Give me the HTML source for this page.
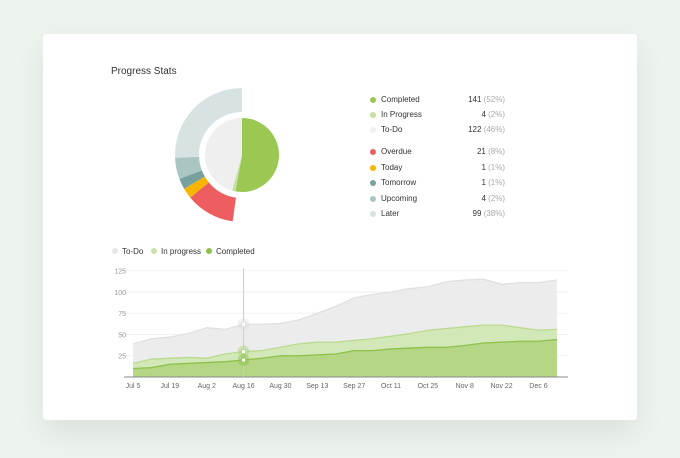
<!DOCTYPE html>
<html><head><meta charset="utf-8"><style>
body{margin:0;width:680px;height:458px;background:#edf3ed;font-family:"Liberation Sans",sans-serif;overflow:hidden;position:relative}
.card{position:absolute;left:43px;top:34px;width:594px;height:386px;background:#fff;border-radius:3px;box-shadow:0 12px 30px rgba(0,0,0,0.08)}
.title{position:absolute;left:111px;top:66px;font-size:10px;color:#333}
.leg{position:absolute;left:370px;width:135px;font-size:8px;color:#333;height:12px}
.leg .d{position:absolute;left:0;top:2px;width:6px;height:6px;border-radius:50%}
.leg .n{position:absolute;left:11px;top:0}
.leg .v{position:absolute;right:0;top:0}
.leg .v span{color:#aaa}
</style></head><body>
<div class="card"></div>
<div class="title">Progress Stats</div>
<svg id="donut" width="680" height="458" style="position:absolute;left:0;top:0"></svg>
<div id="legend"></div>
<svg id="area" width="680" height="458" style="position:absolute;left:0;top:0"></svg>
<script>
const statusNames=["Completed","In Progress","To-Do"];
const statusValues=[141,4,122];
const statusPct=["52%","2%","46%"];
const dueNames=["Overdue","Today","Tomorrow","Upcoming","Later"];
const dueValues=[21,1,1,4,99];
const duePct=["8%","1%","1%","2%","38%"];
const statusColors=["#9bc753","#c5e0a0","#efefef"];
const dueColors=["#ec5e60","#f7b500","#77a19e","#a9c6c3","#d7e3e3"];

const dates=["Jul 5","Jul 19","Aug 2","Aug 16","Aug 30","Sep 13","Sep 27","Oct 11","Oct 25","Nov 8","Nov 22","Dec 6"];
const yTicks=[25,50,75,100,125];
const todo=[39,45,47,51,58,56,62,62,63,67,75,83,93,97,100,104,106,112,114,115,109,111,111,114];
const inprog=[16,21,22,23,22,27,30,31,35,39,41,41,43,45,48,51,55,57,59,61,61,58,55,56];
const completed=[10,11,15,16,17,18,20,22,25,25,26,27,31,31,33,34,35,35,37,40,41,42,42,44];

const NS="http://www.w3.org/2000/svg";
function mk(p,t,a){const e=document.createElementNS(NS,t);for(const k in a)e.setAttribute(k,a[k]);p.appendChild(e);return e;}
// donut
const D=document.getElementById('donut');const cx=242,cy=155;
function pt(r,a){const t=(a-90)*Math.PI/180;return [cx+r*Math.cos(t),cy+r*Math.sin(t)];}
function arc(r0,r1,a0,a1){const l=a1-a0>180?1:0;const p=[pt(r1,a0),pt(r1,a1),pt(r0,a1),pt(r0,a0)];
return `M${p[0]}A${r1},${r1} 0 ${l} 1 ${p[1]}L${p[2]}`+(r0>0?`A${r0},${r0} 0 ${l} 0 ${p[3]}`:'')+'Z';}
const st=statusValues.reduce((a,b)=>a+b,0);let a=0;
statusValues.forEach((v,i)=>{const s=v/st*360;const e=mk(D,'path',{d:arc(0,37,a,a+s),fill:statusColors[i]});

a+=s;});
const sweep=172;
const w=dueValues.map(v=>Math.sqrt(v));const ws=w.reduce((a,b)=>a+b,0);
a=188;dueValues.forEach((v,i)=>{const s=w[i]/ws*sweep;const e=mk(D,'path',{d:arc(43,67,a,a+s),fill:dueColors[i]});

a+=s;});
// legend
const L=document.getElementById('legend');
function row(n,v,p,c,y,key){const d=document.createElement('div');d.className='leg';d.style.top=y+'px';
d.innerHTML=`<div class="d" style="background:${c}"></div><div class="n">${n}</div><div class="v">${v} <span>(${p})</span></div>`;

L.appendChild(d);}
statusNames.forEach((n,i)=>row(n,statusValues[i],statusPct[i],statusColors[i],95+i*15,n.toLowerCase().replace(/ /g,'-')));
dueNames.forEach((n,i)=>row(n,dueValues[i],duePct[i],dueColors[i],147+i*15.5,n.toLowerCase()));
// area chart
const S=document.getElementById('area');
const x0=133,dx=18.43,y0=377,ky=(377-270.7)/125;
const X=i=>x0+i*dx, Y=v=>y0-v*ky;
yTicks.forEach(t=>{mk(S,'line',{x1:120,x2:568,y1:Y(t),y2:Y(t),stroke:'#f2f2f2','stroke-width':1});
const tx=mk(S,'text',{x:126,y:Y(t)+3,'text-anchor':'end','font-size':7,fill:'#999'});tx.textContent=t;

});
function area(vals,fill,line,name){let d=`M${X(0)},${y0}`;vals.forEach((v,i)=>d+=`L${X(i)},${Y(v)}`);d+=`L${X(vals.length-1)},${y0}Z`;
const e=mk(S,'path',{d,fill});
const l=mk(S,'polyline',{points:vals.map((v,i)=>X(i)+','+Y(v)).join(' '),fill:'none',stroke:line,'stroke-width':1.3});
}
area(todo,'#ececec','#e0e0e0','todo');
area(inprog,'#d3e8b8','#b9db8f','in-progress');
area(completed,'#b4d685','#8dc14a','completed');
mk(S,'line',{x1:124,x2:568,y1:y0,y2:y0,stroke:'#888','stroke-width':1});
mk(S,'line',{x1:X(6),x2:X(6),y1:268,y2:y0,stroke:'#ccc','stroke-width':1});
[[todo,'#ddd'],[inprog,'#a8d27a'],[completed,'#8dc14a']].forEach(([s,c])=>{
mk(S,'circle',{cx:X(6),cy:Y(s[6]),r:6,fill:c,opacity:0.45});
const p=mk(S,'circle',{cx:X(6),cy:Y(s[6]),r:2.3,fill:'#fff',stroke:c,'stroke-width':1});
});
dates.forEach((d,i)=>{const t=mk(S,'text',{x:X(i*2),y:388,'text-anchor':'middle','font-size':7,fill:'#666'});t.textContent=d;
});
// series legend
[["To-Do","#e8e8e8",113],["In progress","#c9e3a6",152],["Completed","#8dc14a",207]].forEach(([n,c,x])=>{
mk(S,'circle',{cx:x+2,cy:251,r:3,fill:c});
const t=mk(S,'text',{x:x+9,y:254,'font-size':8,fill:'#333'});t.textContent=n;

});
</script>
</body></html>
